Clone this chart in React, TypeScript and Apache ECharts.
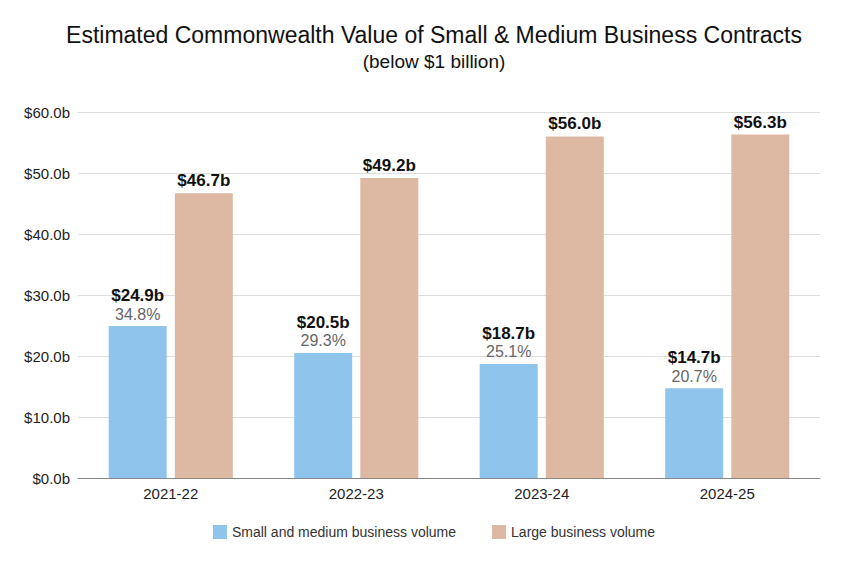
import React, { useEffect, useRef } from "react";
import * as echarts from "echarts";

const categories = ["2021-22", "2022-23", "2023-24", "2024-25"];
const smbValues = [24.9, 20.5, 18.7, 14.7];
const smbShares = ["34.8%", "29.3%", "25.1%", "20.7%"];
const largeValues = [46.7, 49.2, 56.0, 56.3];
const seriesNames = ["Small and medium business volume", "Large business volume"];

export default function App() {
  const ref = useRef<HTMLDivElement>(null);
  useEffect(() => {
    const chart = echarts.init(ref.current!, null, { renderer: "svg" });
    const font = "'Liberation Sans', Arial, sans-serif";
    chart.setOption({
      animation: false,
      textStyle: { fontFamily: font },
      title: {
        text: "Estimated Commonwealth Value of Small & Medium Business Contracts",
        subtext: "(below $1 billion)",
        left: "center",
        top: 18,
        itemGap: 6,
        textStyle: { fontSize: 23, fontWeight: "normal", color: "#111", fontFamily: font },
        subtextStyle: { fontSize: 19, color: "#111", fontFamily: font },
      },
      grid: { left: 78, right: 48, top: 112, bottom: 102 },
      legend: {
        bottom: 36,
        left: "center",
        itemWidth: 14,
        itemHeight: 14,
        itemGap: 36,
        icon: "rect",
        textStyle: { fontSize: 14, color: "#333", fontFamily: font },
        data: seriesNames,
      },
      xAxis: {
        type: "category",
        data: categories,
        axisTick: { show: false },
        axisLine: { lineStyle: { color: "#888" } },
        axisLabel: { fontSize: 15, color: "#222", margin: 8 },
      },
      yAxis: {
        type: "value",
        min: 0,
        max: 60,
        interval: 10,
        axisLabel: { formatter: (v: number) => "$" + v.toFixed(1) + "b", fontSize: 15, color: "#222" },
        splitLine: { lineStyle: { color: "#ddd" } },
      },
      series: [
        {
          name: seriesNames[0],
          type: "bar",
          data: smbValues,
          barWidth: 58,
          barGap: "14%",
          itemStyle: { color: "#8fc5ec" },
          label: {
            show: true,
            position: "top",
            distance: 3,
            formatter: (p: any) => `{b|$${p.value.toFixed(1)}b}\n{s|${smbShares[p.dataIndex]}}`,
            rich: {
              b: { fontSize: 17, fontWeight: "bold", color: "#111", lineHeight: 19, fontFamily: font },
              s: { fontSize: 16, color: "#666", lineHeight: 18, fontFamily: font },
            },
          },
        },
        {
          name: seriesNames[1],
          type: "bar",
          data: largeValues,
          barWidth: 58,
          itemStyle: { color: "#ddb8a3" },
          label: {
            show: true,
            position: "top",
            distance: 4,
            formatter: (p: any) => "$" + p.value.toFixed(1) + "b",
            fontSize: 17,
            fontWeight: "bold",
            color: "#111",
          },
        },
      ],
    });
    return () => chart.dispose();
  }, []);
  return <div ref={ref} style={{ position: "fixed", left: 0, top: 0, width: 868, height: 580, background: "#fff" }} />;
}
